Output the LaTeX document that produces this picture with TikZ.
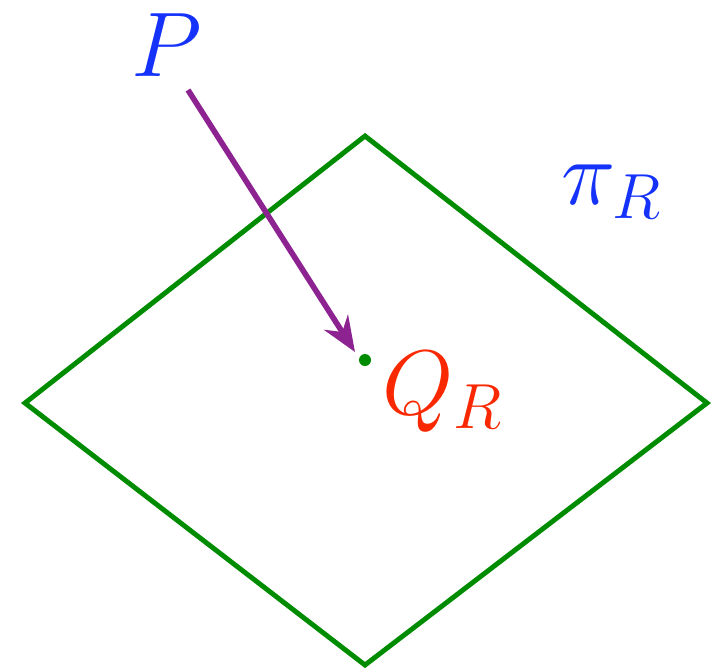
\documentclass[tikz,border=0pt]{standalone}
\usepackage{amsmath, amssymb}
\usepackage{xcolor}
\usetikzlibrary{calc, positioning, arrows.meta}

\definecolor{planegreen}{RGB}{0,140,0}
\definecolor{labelblue}{RGB}{20,50,250}
\definecolor{labelred}{RGB}{250,40,0}
\definecolor{arrowpurple}{RGB}{140,35,145}

\tikzset{biglabel/.style={font=\fontsize{24}{28}\selectfont, scale=1.05, transform shape}}

\begin{document}
\begin{tikzpicture}[>={Stealth[length=10pt,width=8pt]}]

    % =================================================================
    % 1. KHUNG VA TOA DO CAC DIEM
    % =================================================================
    \useasboundingbox (0,0) rectangle (7.14,-6.69);
    \coordinate (T) at (3.65,-1.36);
    \coordinate (L) at (0.25,-4.03);
    \coordinate (R) at (7.07,-4.03);
    \coordinate (B) at (3.65,-6.65);
    \coordinate (Q) at (3.65,-3.60);
    \coordinate (S) at (1.88,-0.90);
    \coordinate (E) at (3.55,-3.52);

    % =================================================================
    % 2. MAT PHANG
    % =================================================================
    \draw[planegreen, line width=1.4pt, line join=miter] (T) -- (R) -- (B) -- (L) -- cycle;

    % =================================================================
    % 3. MUI TEN VA DIEM
    % =================================================================
    \draw[->, arrowpurple, line width=1.6pt] (S) -- (E);
    \fill[planegreen] (Q) circle (0.06);

    % =================================================================
    % 4. NHAN
    % =================================================================
    \node[biglabel, labelblue] (labP) at (1.67,-0.45) {$P$};
    \node[biglabel, labelblue] (labPi) at (6.12,-1.92) {$\pi_R$};
    \node[biglabel, labelred] (labQ) at (4.43,-3.92) {$Q_R$};

\end{tikzpicture}
\end{document}
